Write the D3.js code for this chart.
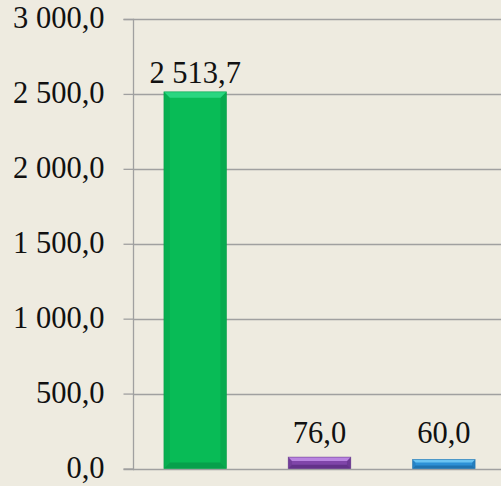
<!DOCTYPE html>
<html><head><meta charset="utf-8">
<script src="https://cdn.jsdelivr.net/npm/d3@7"></script>
<style>
html,body{margin:0;padding:0;background:#EEEBE0;}
svg{display:block;}
text{font-family:"Liberation Serif","Times New Roman",serif;fill:#111;}
</style></head>
<body>
<script>
const categories = ["A", "B", "C"];
const values = [2513.7, 76.0, 60.0];
const tickValues = [0, 500, 1000, 1500, 2000, 2500, 3000];
const labelTexts = ["2 513,7", "76,0", "60,0"];
const mainColors = ["#08BB56", "#7F45A9", "#2D90D6"];
const lightColors = ["#2AD680", "#B985E0", "#6BC3F2"];
const darkColors = ["#079A48", "#5C2D82", "#1D6BA6"];

const W = 501, H = 486;
const svg = d3.select("body").append("svg").attr("width", W).attr("height", H);
svg.append("rect").attr("width", W).attr("height", H).attr("fill", "#EEEBE0");

const y = d3.scaleLinear().domain([0, 3000]).range([468.5, 19]);
const x = d3.scaleBand().domain(categories).range([133, 506]).paddingInner(0.497).paddingOuter(0.2485);

const fmt = v => {
  const s = v.toFixed(1).replace(".", ",");
  const [i, d] = s.split(",");
  return i.replace(/\B(?=(\d{3})+(?!\d))/g, " ") + "," + d;
};

// gridlines
svg.append("g").selectAll("line").data(tickValues).join("line")
  .attr("x1", 133).attr("x2", W)
  .attr("y1", d => Math.round(y(d)) + 0.5).attr("y2", d => Math.round(y(d)) + 0.5)
  .attr("stroke", "#A0A0A0").attr("stroke-width", 1.3);

// axis
const axis = d3.axisLeft(y).tickValues(tickValues).tickSize(10).tickPadding(19).tickFormat(fmt);
const ag = svg.append("g").attr("transform", "translate(133.5,0)").call(axis);
ag.select(".domain").attr("stroke", "#A0A0A0").attr("stroke-width", 1.3).attr("d", `M-10,${Math.round(y(3000))+0.5}H0V${Math.round(y(0))+0.5}H-10`);
ag.selectAll(".tick line").attr("stroke", "#A0A0A0").attr("stroke-width", 1.3);
ag.selectAll(".tick text").attr("font-size", 30.5).attr("font-family", "Liberation Serif").attr("fill", "#111").attr("dy", "0.28em");

// bars with bevel
const bars = svg.append("g");
values.forEach((v, i) => {
  const x0 = x(categories[i]), w = x.bandwidth();
  const y0 = y(v), y1 = y(0);
  const h = y1 - y0;
  const b = Math.min(6, h / 3);
  const g = bars.append("g");
  g.append("rect").attr("x", x0).attr("y", y0).attr("width", w).attr("height", h).attr("fill", mainColors[i]);
  // sides
  g.append("path").attr("d", `M${x0},${y0}L${x0+b},${y0+b}L${x0+b},${y1-b}L${x0},${y1}Z`).attr("fill", darkColors[i]).attr("opacity", 0.35);
  g.append("path").attr("d", `M${x0+w},${y0}L${x0+w-b},${y0+b}L${x0+w-b},${y1-b}L${x0+w},${y1}Z`).attr("fill", darkColors[i]).attr("opacity", 0.5);
  // bottom
  g.append("path").attr("d", `M${x0},${y1}L${x0+b},${y1-b}L${x0+w-b},${y1-b}L${x0+w},${y1}Z`).attr("fill", darkColors[i]).attr("opacity", 0.8);
  // top
  g.append("path").attr("d", `M${x0},${y0}L${x0+w},${y0}L${x0+w-b},${y0+b}L${x0+b},${y0+b}Z`).attr("fill", lightColors[i]);
  g.append("rect").attr("x", x0).attr("y", y0).attr("width", w).attr("height", h)
    .attr("fill", "none").attr("stroke", darkColors[i]).attr("stroke-width", 0.8).attr("opacity", 0.6);
});

// value labels
svg.append("g").selectAll("text").data(values).join("text")
  .attr("x", (d, i) => x(categories[i]) + x.bandwidth() / 2)
  .attr("y", d => Math.min(y(d) - 9, y(0) - 26))
  .attr("text-anchor", "middle").attr("font-size", 30.5)
  .text((d, i) => labelTexts[i]);
</script>
</body></html>
